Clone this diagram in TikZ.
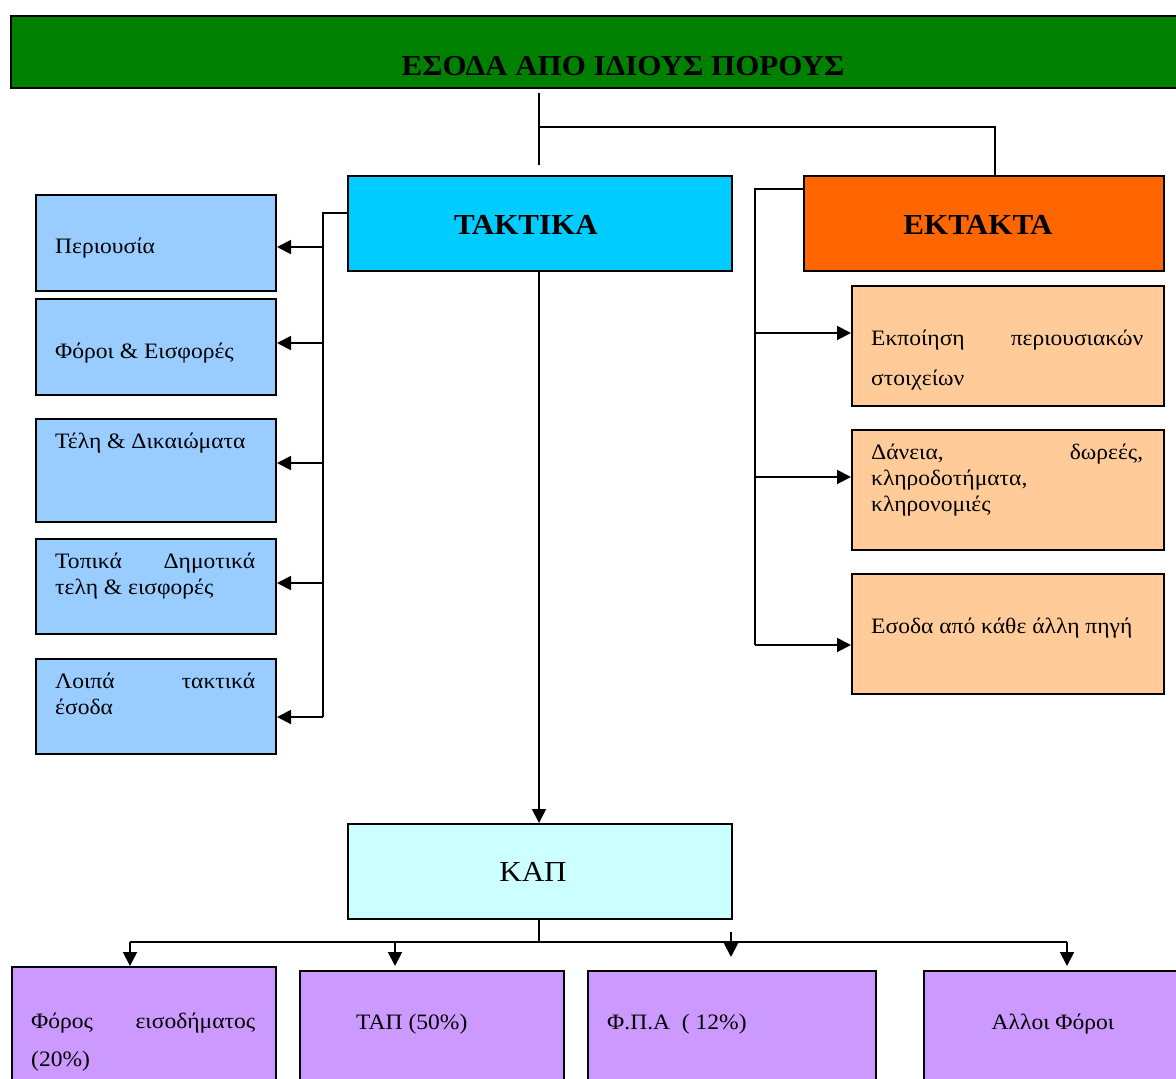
\documentclass[tikz,border=0pt]{standalone}
\usepackage{fontspec}
\setmainfont{Liberation Serif}[FakeStretch=1.07]
\usetikzlibrary{arrows.meta}
\definecolor{cgreen}{HTML}{008000}
\definecolor{ccyan}{HTML}{00CCFF}
\definecolor{corange}{HTML}{FF6600}
\definecolor{cblue}{HTML}{99CCFF}
\definecolor{cpeach}{HTML}{FFCC99}
\definecolor{clcyan}{HTML}{CCFFFF}
\definecolor{cpurple}{HTML}{CC99FF}
\tikzset{
  bx/.style={draw=black, line width=2pt, anchor=north west, inner sep=0pt},
  conn/.style={line width=1.9pt, black},
  arr/.style={conn, -{Triangle[length=14pt,width=14pt]}},
  txt/.style={anchor=base west, inner sep=0pt, font=\fontsize{22}{26}\selectfont},
  btxt/.style={inner sep=0pt, font=\fontsize{29}{34}\selectfont\bfseries},
}
\newcommand{\bxat}[6]{\node[bx, fill=#6, minimum width=#4pt, minimum height=#5pt] (#1) at (#2,#3) {};}
\begin{document}
\begin{tikzpicture}[x=1pt,y=-1pt]
\useasboundingbox (0,0) rectangle (1176,1079);
% banner
\bxat{ban}{10}{15}{1175}{72}{cgreen}
\node[btxt, anchor=base] (bant) at (623,75) {ΕΣΟΔΑ ΑΠΟ ΙΔΙΟΥΣ ΠΟΡΟΥΣ};
% main boxes
\bxat{tak}{347}{175}{384}{95}{ccyan}
\node[btxt, anchor=base] (takt) at (526,234) {ΤΑΚΤΙΚΑ};
\bxat{ekt}{803}{175}{360}{95}{corange}
\node[btxt, anchor=base] (ektt) at (978,234) {ΕΚΤΑΚΤΑ};
% left boxes
\bxat{l1}{35}{194}{240}{96}{cblue}
\bxat{l2}{35}{298}{240}{96}{cblue}
\bxat{l3}{35}{418}{240}{103}{cblue}
\bxat{l4}{35}{538}{240}{95}{cblue}
\bxat{l5}{35}{658}{240}{95}{cblue}
\node[txt] (l1t) at (55,253) {Περιουσία};
\node[txt] (l2t) at (55,358) {Φόροι \& Εισφορές};
\node[txt] (l3t) at (55,448) {Τέλη \& Δικαιώματα};
\node[txt] (l4t) at (55,568) {\makebox[200pt][s]{Τοπικά\hfill Δημοτικά}};
\node[txt] (l4u) at (55,594) {τελη \& εισφορές};
\node[txt] (l5t) at (55,688) {\makebox[200pt][s]{Λοιπά\hfill τακτικά}};
\node[txt] (l5u) at (55,714) {έσοδα};
% right boxes
\bxat{r1}{851}{285}{312}{120}{cpeach}
\bxat{r2}{851}{429}{312}{120}{cpeach}
\bxat{r3}{851}{573}{312}{120}{cpeach}
\node[txt] (r1t) at (871,345) {\makebox[272pt][s]{Εκποίηση\hfill περιουσιακών}};
\node[txt] (r1u) at (871,385) {στοιχείων};
\node[txt] (r2t) at (871,459) {\makebox[272pt][s]{Δάνεια,\hfill δωρεές,}};
\node[txt] (r2u) at (871,485) {κληροδοτήματα,};
\node[txt] (r2v) at (871,511) {κληρονομιές};
\node[txt] (r3t) at (871,633) {Εσοδα από κάθε άλλη πηγή};
% KAP
\bxat{kap}{347}{823}{384}{95}{clcyan}
\node[inner sep=0pt, anchor=base, font=\fontsize{29}{32}\selectfont] (kapt) at (533,881) {ΚΑΠ};
% bottom boxes
\bxat{b1}{11}{966}{264}{130}{cpurple}
\bxat{b2}{299}{970}{264}{130}{cpurple}
\bxat{b3}{587}{970}{288}{130}{cpurple}
\bxat{b4}{923}{970}{260}{130}{cpurple}
\node[txt] (b1t) at (31,1028) {\makebox[224pt][s]{Φόρος\hfill εισοδήματος}};
\node[txt] (b1u) at (31,1066) {(20\%)};
\node[txt] (b2t) at (356,1029) {ΤΑΠ (50\%)};
\node[txt] (b3t) at (607,1029) {Φ.Π.Α~~( 12\%)};
\node[txt, anchor=base] (b4t) at (1053,1029) {Αλλοι Φόροι};
% connectors top
\coordinate (c0) at (539,93);
\coordinate (c1) at (539,127);
\coordinate (c2) at (539,165);
\draw[conn] (c0) -- (c2);
\draw[conn] (c1) -- (c1 -| 995,0) -- (ekt.north -| 995,0);
% left bus
\coordinate (lt) at (323,213);
\coordinate (lb) at (323,717);
\draw[conn] (lt -| tak.west) -- (lt) -- (lb);
\foreach \y/\b in {247/l1,343/l2,463/l3,583/l4,717/l5}{
  \draw[arr] (323,\y) -- (\b.east |- 0,\y);
}
% right bus
\coordinate (rt) at (755,189);
\coordinate (rb) at (755,645);
\draw[conn] (rt -| ekt.west) -- (rt) -- (rb);
\foreach \y/\b in {333/r1,477/r2,645/r3}{
  \draw[arr] (755,\y) -- (\b.west |- 0,\y);
}
% takt to kap
\draw[arr] (tak.south -| 539,0) -- (kap.north -| 539,0);
% bottom bus
\coordinate (kb) at (539,942);
\draw[conn] (kap.south -| kb) -- (kb);
\draw[conn] (130,942) -- (1067,942);
\draw[arr] (130,942) -- (b1.north -| 130,0);
\draw[arr] (395,942) -- (395,966);
\draw[arr] (731,932) -- (731,957);
\draw[arr] (1067,942) -- (1067,966);
\end{tikzpicture}
\end{document}
